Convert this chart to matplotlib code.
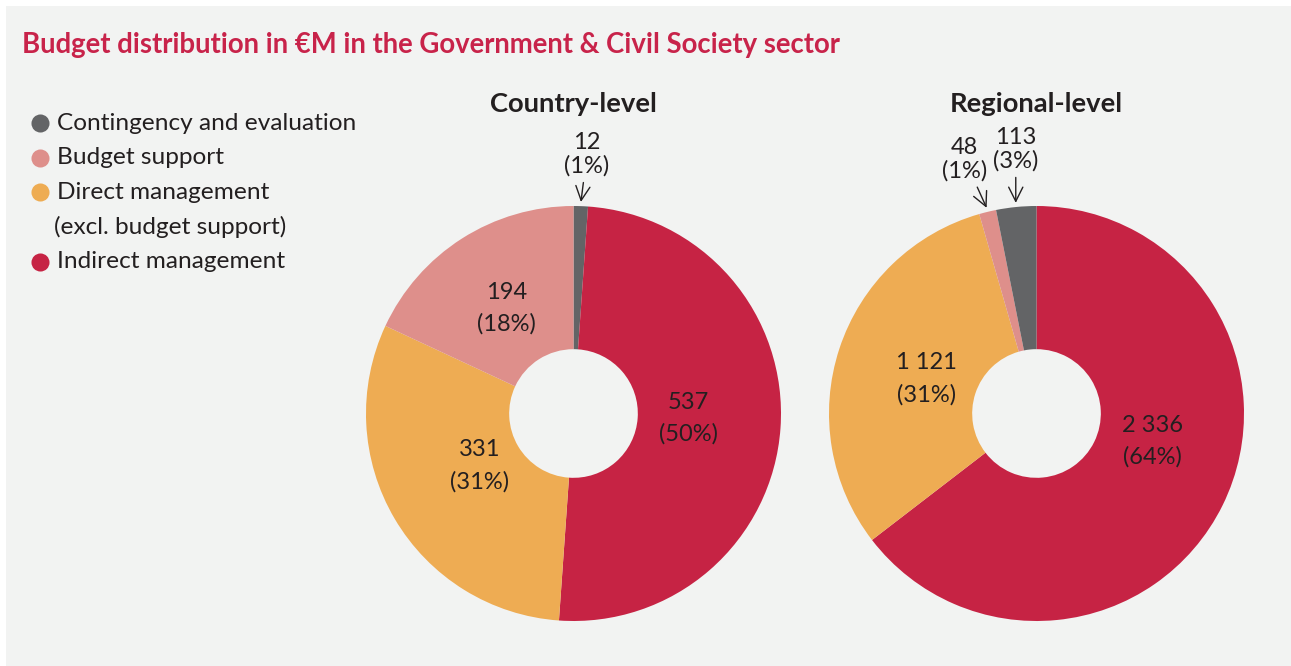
import numpy as np
import matplotlib.pyplot as plt
from matplotlib.lines import Line2D
from matplotlib.patches import Rectangle

plt.rcParams['font.family'] = ['Lato', 'DejaVu Sans']

# Budget in EUR million, by category
categories = ['Contingency and evaluation', 'Budget support',
              'Direct management\n(excl. budget support)', 'Indirect management']
colors = ['#636466', '#de8f8b', '#eeac53', '#c62344']

country_values = [12, 194, 331, 537]
country_pct = [1, 18, 31, 50]
regional_values = [113, 48, 1121, 2336]
regional_pct = [3, 1, 31, 64]

# clockwise order from 12 o'clock
country_order = [0, 3, 2, 1]
regional_order = [3, 2, 1, 0]

TXT = '#231f20'
BG = '#f2f3f2'
W, H = 1291, 666

fig = plt.figure(figsize=(W / 100, H / 100), dpi=100)
fig.patch.set_facecolor('white')
fig.patches.append(Rectangle((6 / W, 0), 1, 1 - 6 / H, transform=fig.transFigure,
                             facecolor=BG, edgecolor='none', zorder=-10))

fig.text(22 / W, 1 - 45 / H, 'Budget distribution in €M in the Government & Civil Society sector',
         color='#c8234a', fontsize=19.8, fontweight='bold', va='center', ha='left')


def fmt(v):
    return f'{v:,}'.replace(',', ' ')


def donut(cx, cy, r, title, values, pct, order, callouts, shifts={}):
    ax = fig.add_axes([(cx - r) / W, 1 - (cy + r) / H, 2 * r / W, 2 * r / H])
    vals = [values[i] for i in order]
    cols = [colors[i] for i in order]
    wedges, _ = ax.pie(vals, colors=cols, startangle=90, counterclock=False, radius=1,
                       wedgeprops=dict(width=0.69, linewidth=0))
    ax.set_xlim(-1, 1)
    ax.set_ylim(-1, 1)
    ax.set_aspect('equal')
    ax.axis('off')
    ax.text(0, 1.49, title, ha='center', va='center', fontsize=19.7, fontweight='bold', color=TXT)

    for w, i in zip(wedges, order):
        mid = np.deg2rad((w.theta1 + w.theta2) / 2)
        label = f'{fmt(values[i])}\n({pct[i]}%)'
        if i in callouts:
            dx, dy = callouts[i]
            ax.annotate(label, xy=(1.02 * np.cos(mid), 1.02 * np.sin(mid)),
                        xytext=(dx, dy), textcoords='offset pixels',
                        ha='center', va='bottom', fontsize=17, color=TXT,
                        linespacing=1.15, annotation_clip=False,
                        arrowprops=dict(arrowstyle='->,head_length=0.6,head_width=0.3',
                                        color=TXT, lw=1, shrinkA=2, shrinkB=0))
        else:
            sx, sy = shifts.get(i, (0, 0))
            ax.annotate(label, xy=(0.6 * np.cos(mid), 0.6 * np.sin(mid)),
                        xytext=(sx, sy), textcoords='offset pixels',
                        ha='center', va='center', fontsize=17, color=TXT, linespacing=1.6)
    return ax


donut(573.5, 413.5, 207.5, 'Country-level', country_values, country_pct, country_order,
      {0: (6, 25)}, shifts={3: (-9, 4), 2: (13, 11)})
donut(1036.5, 413.5, 207.5, 'Regional-level', regional_values, regional_pct, regional_order,
      {1: (-22, 26), 0: (0, 31)}, shifts={3: (4, 27), 2: (8, -4)})

# legend: coloured dots with one text row per line
row = 0
for cat, col in zip(categories, colors):
    y = 1 - (123 + 34.7 * row) / H
    fig.add_artist(Line2D([40 / W], [y], transform=fig.transFigure, marker='o',
                          markersize=13, markerfacecolor=col, markeredgecolor='none'))
    for k, line in enumerate(cat.split('\n')):
        y = 1 - (123 + 34.7 * row) / H
        fig.text((57 if k == 0 else 54) / W, y, line, fontsize=17.6, color=TXT,
                 ha='left', va='center')
        row += 1

fig.savefig('out.png', dpi=100, facecolor=fig.get_facecolor())
